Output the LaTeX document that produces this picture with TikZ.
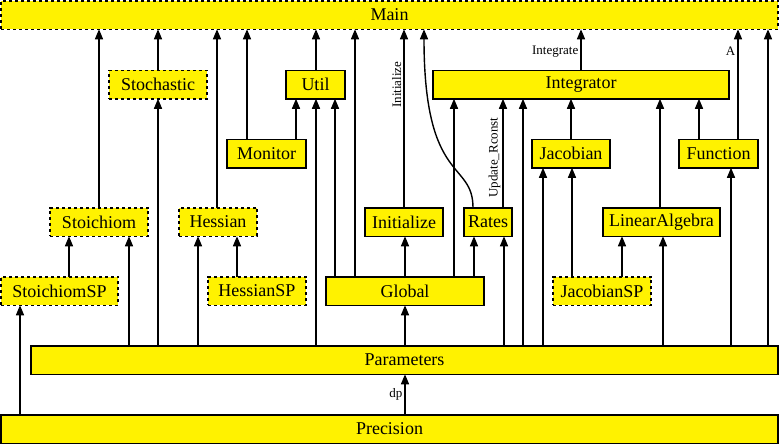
\documentclass[tikz,border=0pt]{standalone}
\usepackage{fontspec}
\setmainfont{Liberation Serif}
\usepackage{tikz}
\usetikzlibrary{arrows.meta}

\tikzset{
    module/.style={draw, fill=yellow, line width=1.5pt, inner sep=0pt, outer sep=0pt,
        minimum height=28.5pt, font=\fontsize{18}{20}\selectfont},
    hidden/.style={module, dashed},
    dep/.style={-{Triangle[length=10pt, width=8pt]}, line width=1.4pt},
    lbl/.style={font=\fontsize{13}{15}\selectfont, inner sep=2pt}
}
% arrow from the top of #1 to the bottom of #2 at x = #3
\newcommand{\uses}[3]{\draw[dep] (#1.north -| #3,0) -- (#2.south -| #3,0);}

\begin{document}
\begin{tikzpicture}[x=1pt, y=-1pt]
    \useasboundingbox (0,0) rectangle (780,445);

    \node[hidden, minimum width=777pt] (main) at (389.5,15) {Main};
    \node[hidden, minimum width=98pt] (stoch) at (158,84.5) {Stochastic};
    \node[module, minimum width=59pt] (util) at (315.5,84.5) {Util};
    \node[module, minimum width=296pt] (integ) at (581,84.5) {Integrator};
    \node[module, minimum width=79pt] (monitor) at (266.5,153.5) {Monitor};
    \node[module, minimum width=78pt] (jac) at (571,153.5) {Jacobian};
    \node[module, minimum width=79pt] (fun) at (718.5,153.5) {Function};
    \node[hidden, minimum width=98pt] (stoich) at (99,222) {Stoichiom};
    \node[hidden, minimum width=78pt] (hess) at (218,222) {Hessian};
    \node[module, minimum width=78pt] (init) at (404,222) {Initialize};
    \node[module, minimum width=48pt] (rates) at (488,222) {Rates};
    \node[module, minimum width=117pt] (linalg) at (661.5,222) {LinearAlgebra};
    \node[hidden, minimum width=117pt] (stoichsp) at (59.5,291) {StoichiomSP};
    \node[hidden, minimum width=98pt] (hesssp) at (257,291) {HessianSP};
    \node[module, minimum width=158pt] (global) at (405,291) {Global};
    \node[hidden, minimum width=98pt] (jacsp) at (602,291) {JacobianSP};
    \node[module, minimum width=747pt] (params) at (404.5,360) {Parameters};
    \node[module, minimum width=777pt] (prec) at (389.5,429) {Precision};

    % into Main
    \uses{stoich}{main}{99}
    \uses{stoch}{main}{158}
    \uses{hess}{main}{217}
    \uses{monitor}{main}{247}
    \uses{util}{main}{316}
    \uses{global}{main}{355}
    \draw[dep] (init.north) -- node[lbl, sloped, above, pos=0.69] {Initialize} (main.south -| init.north);
    \draw[dep] (rates.north -| 473,0) .. controls (473,160) and (424,185) .. (main.south -| 424,0);
    \draw[dep] (integ.north) -- node[lbl, left, pos=0.45] {Integrate} (main.south -| integ.north);
    \draw[dep] (fun.north -| 738,0) -- node[lbl, left, pos=0.8] {A} (main.south -| 738,0);
    \uses{params}{main}{768}

    % into Util and Integrator
    \uses{monitor}{util}{296}
    \uses{params}{util}{316}
    \uses{global}{util}{335}
    \uses{global}{integ}{454}
    \draw[dep] (rates.north -| 503,0) -- node[lbl, sloped, above, pos=0.46] {Update\_Rconst} (integ.south -| 503,0);
    \uses{params}{integ}{523}
    \uses{jac}{integ}{571}
    \uses{linalg}{integ}{660}
    \uses{fun}{integ}{699}

    % middle layers
    \uses{params}{stoch}{158}
    \uses{params}{jac}{543}
    \uses{jacsp}{jac}{572}
    \uses{params}{fun}{731}
    \uses{stoichsp}{stoich}{69}
    \uses{params}{stoich}{129}
    \uses{params}{hess}{198}
    \uses{hesssp}{hess}{237}
    \uses{global}{init}{405}
    \uses{global}{rates}{474}
    \uses{params}{rates}{504}
    \uses{jacsp}{linalg}{622}
    \uses{params}{linalg}{663}

    % bottom
    \uses{params}{global}{405}
    \uses{prec}{stoichsp}{20}
    \draw[dep] (prec.north -| 405,0) -- node[lbl, left] {dp} (params.south -| 405,0);
\end{tikzpicture}
\end{document}
